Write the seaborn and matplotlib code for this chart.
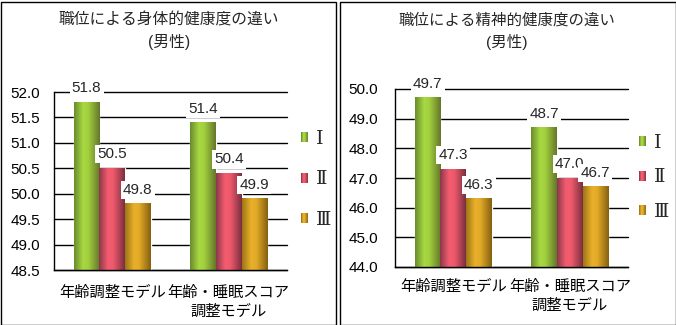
import numpy as np
import pandas as pd
import matplotlib
matplotlib.use("Agg")
import matplotlib.pyplot as plt
import seaborn as sns
from matplotlib.colors import LinearSegmentedColormap
from matplotlib.patches import Rectangle
from matplotlib.legend_handler import HandlerBase

# ---- data -------------------------------------------------------------
models = ["年齢調整モデル", "年齢・睡眠スコア\n調整モデル"]
ranks = ["Ⅰ", "Ⅱ", "Ⅲ"]

physical_I = [51.8, 51.4]
physical_II = [50.5, 50.4]
physical_III = [49.8, 49.9]

mental_I = [49.7, 48.7]
mental_II = [47.3, 47.0]
mental_III = [46.3, 46.7]

title_physical = "職位による身体的健康度の違い"
title_mental = "職位による精神的健康度の違い"
subtitle = "(男性)"

# ---- style ------------------------------------------------------------
sns.set_style("white")
plt.rcParams["font.family"] = ["Liberation Sans", "Noto Sans CJK JP", "DejaVu Sans"]
FS = 11
LEG_FS = 14
NUMERAL_FONT = ["DejaVu Serif", "Noto Sans CJK JP"]

# cylinder-like shading for each rank: left edge, highlight, right edge
shades = {
    "Ⅰ": ["#6a8a2c", "#a8d842", "#a2d03e", "#64762a"],
    "Ⅱ": ["#8a3848", "#f45c70", "#ee5a6c", "#7a2e3e"],
    "Ⅲ": ["#9c7418", "#e8b02a", "#e2aa28", "#846010"],
}
stops = [0.0, 0.35, 0.55, 1.0]
cmaps = {r: LinearSegmentedColormap.from_list(r, list(zip(stops, shades[r]))) for r in ranks}
palette = {r: shades[r][1] for r in ranks}


class GradientKey:
    def __init__(self, cmap):
        self.cmap = cmap


class HandlerGradient(HandlerBase):
    def create_artists(self, legend, orig_handle, xdescent, ydescent,
                       width, height, fontsize, trans):
        n = 12
        arts = []
        for k in range(n):
            arts.append(Rectangle((-xdescent + k * width / n, -ydescent),
                                  width / n + 0.01, height,
                                  facecolor=orig_handle.cmap((k + 0.5) / n),
                                  edgecolor="none", transform=trans))
        return arts


def long_table(s1, s2, s3):
    rows = []
    for r, vals in zip(ranks, [s1, s2, s3]):
        for m, v in zip(models, vals):
            rows.append({"model": m, "rank": r, "score": v})
    return pd.DataFrame(rows)


W, H = 676, 325
fig = plt.figure(figsize=(W / 100, H / 100), dpi=100)


def fx(px):
    return px / W


def fy(py):
    return 1 - py / H


def fit_width(text, target_px):
    """Rescale a text so that its rendered width is target_px pixels."""
    renderer = fig.canvas.get_renderer()
    w = text.get_window_extent(renderer).width
    text.set_fontsize(text.get_fontsize() * target_px / w)


def draw_panel(rect, df, ylim, ystep, ypad, xpad, title, title_cx, title_w,
               leg_x, leg_y, leg_space):
    ax = fig.add_axes(rect)
    sns.barplot(data=df, x="model", y="score", hue="rank", order=models,
                hue_order=ranks, palette=palette, width=0.66, gap=0,
                saturation=1, errorbar=None, legend=False, ax=ax)

    grad = np.linspace(0, 1, 256).reshape(1, -1)
    for r, cont in zip(ranks, ax.containers):
        for bar in cont:
            x, w, h = bar.get_x(), bar.get_width(), bar.get_height()
            ax.imshow(grad, cmap=cmaps[r], extent=[x, x + w, ylim[0], h],
                      aspect="auto", interpolation="bilinear", zorder=2)
            bar.set_facecolor("none")
        ax.bar_label(cont, fmt="%.1f", padding=5, fontsize=FS, zorder=5,
                     bbox=dict(facecolor="white", edgecolor="none", pad=1.5))

    ax.set_xlim(-0.5, 1.5)
    ax.set_ylim(*ylim)
    ax.set_yticks(np.arange(ylim[0], ylim[1] + ystep / 2, ystep))
    ax.yaxis.set_major_formatter("{x:.1f}")
    ax.grid(axis="y", color="black", linewidth=1)
    ax.grid(axis="x", visible=False)
    ax.set_axisbelow(True)
    for gl in ax.get_ygridlines():
        gl.set_clip_on(False)
    for s in ["top", "right"]:
        ax.spines[s].set_visible(False)
    for s in ["left", "bottom"]:
        ax.spines[s].set_color("black")
        ax.spines[s].set_linewidth(1)
    ax.set_xlabel("")
    ax.set_ylabel("")
    ax.tick_params(axis="y", length=0, pad=ypad, labelsize=FS, colors="black")
    ax.tick_params(axis="x", which="major", length=0, pad=xpad, labelsize=FS,
                   colors="black")
    for lbl in ax.get_xticklabels():
        lbl.set_linespacing(1.45)
    ax.set_xticks([-0.5, 0.5, 1.5], minor=True)
    ax.tick_params(axis="x", which="minor", direction="in", length=5,
                   width=1, color="black")

    handles = [GradientKey(cmaps[r]) for r in ranks]
    ax.legend(handles, ranks, handler_map={GradientKey: HandlerGradient()},
              loc="center left", bbox_to_anchor=(fx(leg_x), fy(leg_y)),
              bbox_transform=fig.transFigure, frameon=False,
              handlelength=0.37, handleheight=0.42, handletextpad=0.42,
              labelspacing=leg_space, borderpad=0, borderaxespad=0,
              prop={"family": NUMERAL_FONT, "size": LEG_FS})

    t1 = fig.text(fx(title_cx), fy(20), title, ha="center", va="center",
                  fontsize=FS)
    t2 = fig.text(fx(title_cx), fy(42), subtitle, ha="center", va="center",
                  fontsize=FS)
    fit_width(t1, title_w)
    t2.set_fontsize(t1.get_fontsize())
    return ax


draw_panel([fx(54), fy(270), fx(233), 178 / H],
           long_table(physical_I, physical_II, physical_III),
           (48.5, 52.0), 0.5, 10, 11.5, title_physical, 169, 220,
           301, 179.5, 1.14)

draw_panel([fx(395), fy(267), fx(233), 178 / H],
           long_table(mental_I, mental_II, mental_III),
           (44.0, 50.0), 1.0, 12, 9, title_mental, 507, 216,
           639, 177.5, 0.83)

# panel frames
for x0, x1 in [(0.5, 335.5), (339.5, 675.5)]:
    fig.patches.append(Rectangle((fx(x0), fy(324.5)), fx(x1 - x0), 323 / H,
                                 transform=fig.transFigure, fill=False,
                                 edgecolor="black", linewidth=1))

fig.savefig("out.png", dpi=100)
